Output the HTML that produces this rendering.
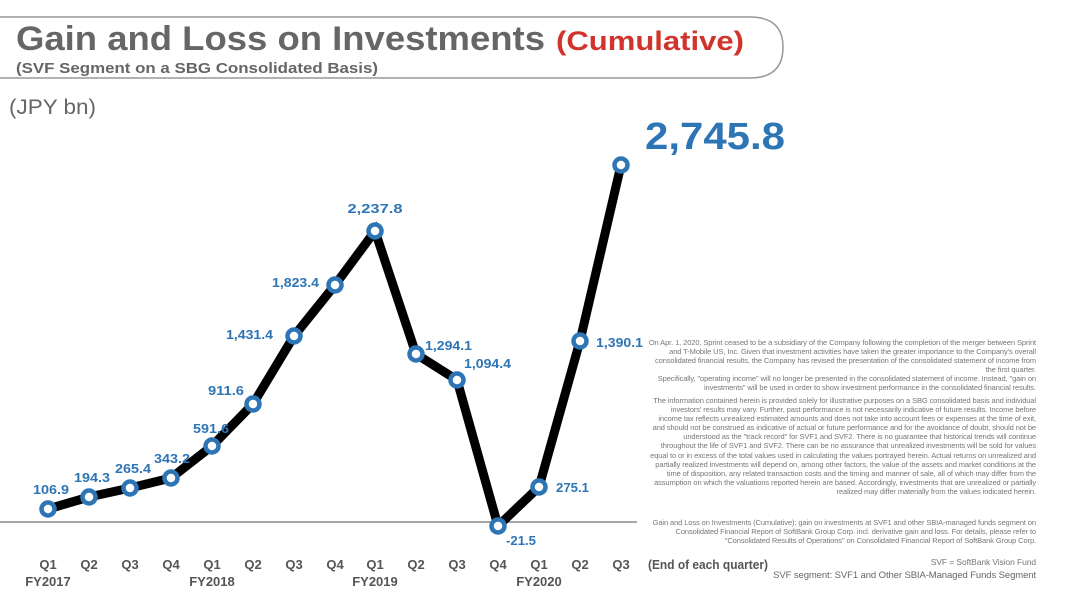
<!DOCTYPE html>
<html><head><meta charset="utf-8"><style>
html,body{margin:0;padding:0;background:#fff}
body{width:1080px;height:608px;overflow:hidden;position:relative;font-family:"Liberation Sans",sans-serif}
.fn{position:absolute;left:648px;width:388px;text-align:right;color:#777;font-size:7.5px;line-height:9.1px;letter-spacing:-0.1px}
</style></head><body>
<svg width="1080" height="608" style="position:absolute;left:0;top:0" font-family="Liberation Sans, sans-serif">
<path d="M-5 17 H750 Q783 17 783 47 Q783 78 750 78 H-5" fill="none" stroke="#999" stroke-width="1.5"/>
<text x="16" y="50" font-size="34" font-weight="bold" fill="#666" textLength="529" lengthAdjust="spacingAndGlyphs">Gain and Loss on Investments</text>
<text x="556" y="50" font-size="27" font-weight="bold" fill="#d0342c" textLength="188" lengthAdjust="spacingAndGlyphs">(Cumulative)</text>
<text x="16" y="73" font-size="14.5" font-weight="bold" fill="#666" textLength="362" lengthAdjust="spacingAndGlyphs">(SVF Segment on a SBG Consolidated Basis)</text>
<text x="9" y="114" font-size="21" fill="#666" textLength="87" lengthAdjust="spacingAndGlyphs">(JPY bn)</text>
<line x1="0" y1="522" x2="637" y2="522" stroke="#888" stroke-width="1.5"/>
<polyline fill="none" stroke="#000" stroke-width="9" stroke-linejoin="miter" points="48,509 89,497 130,488 171,478 212,446 253,404 294,336 335,285 375,231 416,354 457,380 498,526 539,487 580,341 621,165"/>
<g fill="#fff" stroke="#2e75b6" stroke-width="4.5">
<circle cx="48" cy="509" r="6.5"/><circle cx="89" cy="497" r="6.5"/><circle cx="130" cy="488" r="6.5"/><circle cx="171" cy="478" r="6.5"/><circle cx="212" cy="446" r="6.5"/><circle cx="253" cy="404" r="6.5"/><circle cx="294" cy="336" r="6.5"/><circle cx="335" cy="285" r="6.5"/><circle cx="375" cy="231" r="6.5"/><circle cx="416" cy="354" r="6.5"/><circle cx="457" cy="380" r="6.5"/><circle cx="498" cy="526" r="6.5"/><circle cx="539" cy="487" r="6.5"/><circle cx="580" cy="341" r="6.5"/><circle cx="621" cy="165" r="6.5"/>
</g>
<g fill="#2e75b6" font-size="13" font-weight="bold">
<text x="51" y="494" text-anchor="middle" textLength="36" lengthAdjust="spacingAndGlyphs">106.9</text>
<text x="92" y="482" text-anchor="middle" textLength="36" lengthAdjust="spacingAndGlyphs">194.3</text>
<text x="133" y="473" text-anchor="middle" textLength="36" lengthAdjust="spacingAndGlyphs">265.4</text>
<text x="172" y="463" text-anchor="middle" textLength="36" lengthAdjust="spacingAndGlyphs">343.2</text>
<text x="211" y="433" text-anchor="middle" textLength="36" lengthAdjust="spacingAndGlyphs">591.6</text>
<text x="244" y="395" text-anchor="end" textLength="36" lengthAdjust="spacingAndGlyphs">911.6</text>
<text x="273" y="339" text-anchor="end" textLength="47" lengthAdjust="spacingAndGlyphs">1,431.4</text>
<text x="319" y="287" text-anchor="end" textLength="47" lengthAdjust="spacingAndGlyphs">1,823.4</text>
<text x="375" y="213" text-anchor="middle" textLength="55" lengthAdjust="spacingAndGlyphs">2,237.8</text>
<text x="425" y="350" textLength="47" lengthAdjust="spacingAndGlyphs">1,294.1</text>
<text x="464" y="368" textLength="47" lengthAdjust="spacingAndGlyphs">1,094.4</text>
<text x="506" y="545" textLength="30" lengthAdjust="spacingAndGlyphs">-21.5</text>
<text x="556" y="492" textLength="33" lengthAdjust="spacingAndGlyphs">275.1</text>
<text x="596" y="347" textLength="47" lengthAdjust="spacingAndGlyphs">1,390.1</text>
</g>
<text x="645" y="149" font-size="38" font-weight="bold" fill="#2e75b6" textLength="140" lengthAdjust="spacingAndGlyphs">2,745.8</text>
<g fill="#555" font-size="13" font-weight="bold" text-anchor="middle">
<text x="48" y="569">Q1</text><text x="89" y="569">Q2</text><text x="130" y="569">Q3</text><text x="171" y="569">Q4</text><text x="212" y="569">Q1</text><text x="253" y="569">Q2</text><text x="294" y="569">Q3</text><text x="335" y="569">Q4</text><text x="375" y="569">Q1</text><text x="416" y="569">Q2</text><text x="457" y="569">Q3</text><text x="498" y="569">Q4</text><text x="539" y="569">Q1</text><text x="580" y="569">Q2</text><text x="621" y="569">Q3</text>
<text x="48" y="586">FY2017</text><text x="212" y="586">FY2018</text><text x="375" y="586">FY2019</text><text x="539" y="586">FY2020</text>
</g>
<text x="648" y="569" font-size="12.5" font-weight="bold" fill="#555" textLength="120" lengthAdjust="spacingAndGlyphs">(End of each quarter)</text>
</svg>
<div class="fn" style="top:338px">On Apr. 1, 2020, Sprint ceased to be a subsidiary of the Company following the completion of the merger between Sprint and T-Mobile US, Inc. Given that investment activities have taken the greater importance to the Company's overall consolidated financial results, the Company has revised the presentation of the consolidated statement of income from the first quarter.<br>Specifically, "operating income" will no longer be presented in the consolidated statement of income. Instead, "gain on investments" will be used in order to show investment performance in the consolidated financial results.</div>
<div class="fn" style="top:396px">The information contained herein is provided solely for illustrative purposes on a SBG consolidated basis and individual investors' results may vary. Further, past performance is not necessarily indicative of future results. Income before income tax reflects unrealized estimated amounts and does not take into account fees or expenses at the time of exit, and should not be construed as indicative of actual or future performance and for the avoidance of doubt, should not be understood as the "track record" for SVF1 and SVF2. There is no guarantee that historical trends will continue throughout the life of SVF1 and SVF2. There can be no assurance that unrealized investments will be sold for values equal to or in excess of the total values used in calculating the values portrayed herein. Actual returns on unrealized and partially realized investments will depend on, among other factors, the value of the assets and market conditions at the time of disposition, any related transaction costs and the timing and manner of sale, all of which may differ from the assumption on which the valuations reported herein are based. Accordingly, investments that are unrealized or partially realized may differ materially from the values indicated herein.</div>
<div class="fn" style="top:518px">Gain and Loss on Investments (Cumulative): gain on investments at SVF1 and other SBIA-managed funds segment on Consolidated Financial Report of SoftBank Group Corp. incl. derivative gain and loss. For details, please refer to "Consolidated Results of Operations" on Consolidated Financial Report of SoftBank Group Corp.</div>
<div class="fn" style="top:558px;font-size:8.5px">SVF = SoftBank Vision Fund</div>
<div class="fn" style="top:571px;font-size:9.5px;color:#666">SVF segment: SVF1 and Other SBIA-Managed Funds Segment</div>
</body></html>
